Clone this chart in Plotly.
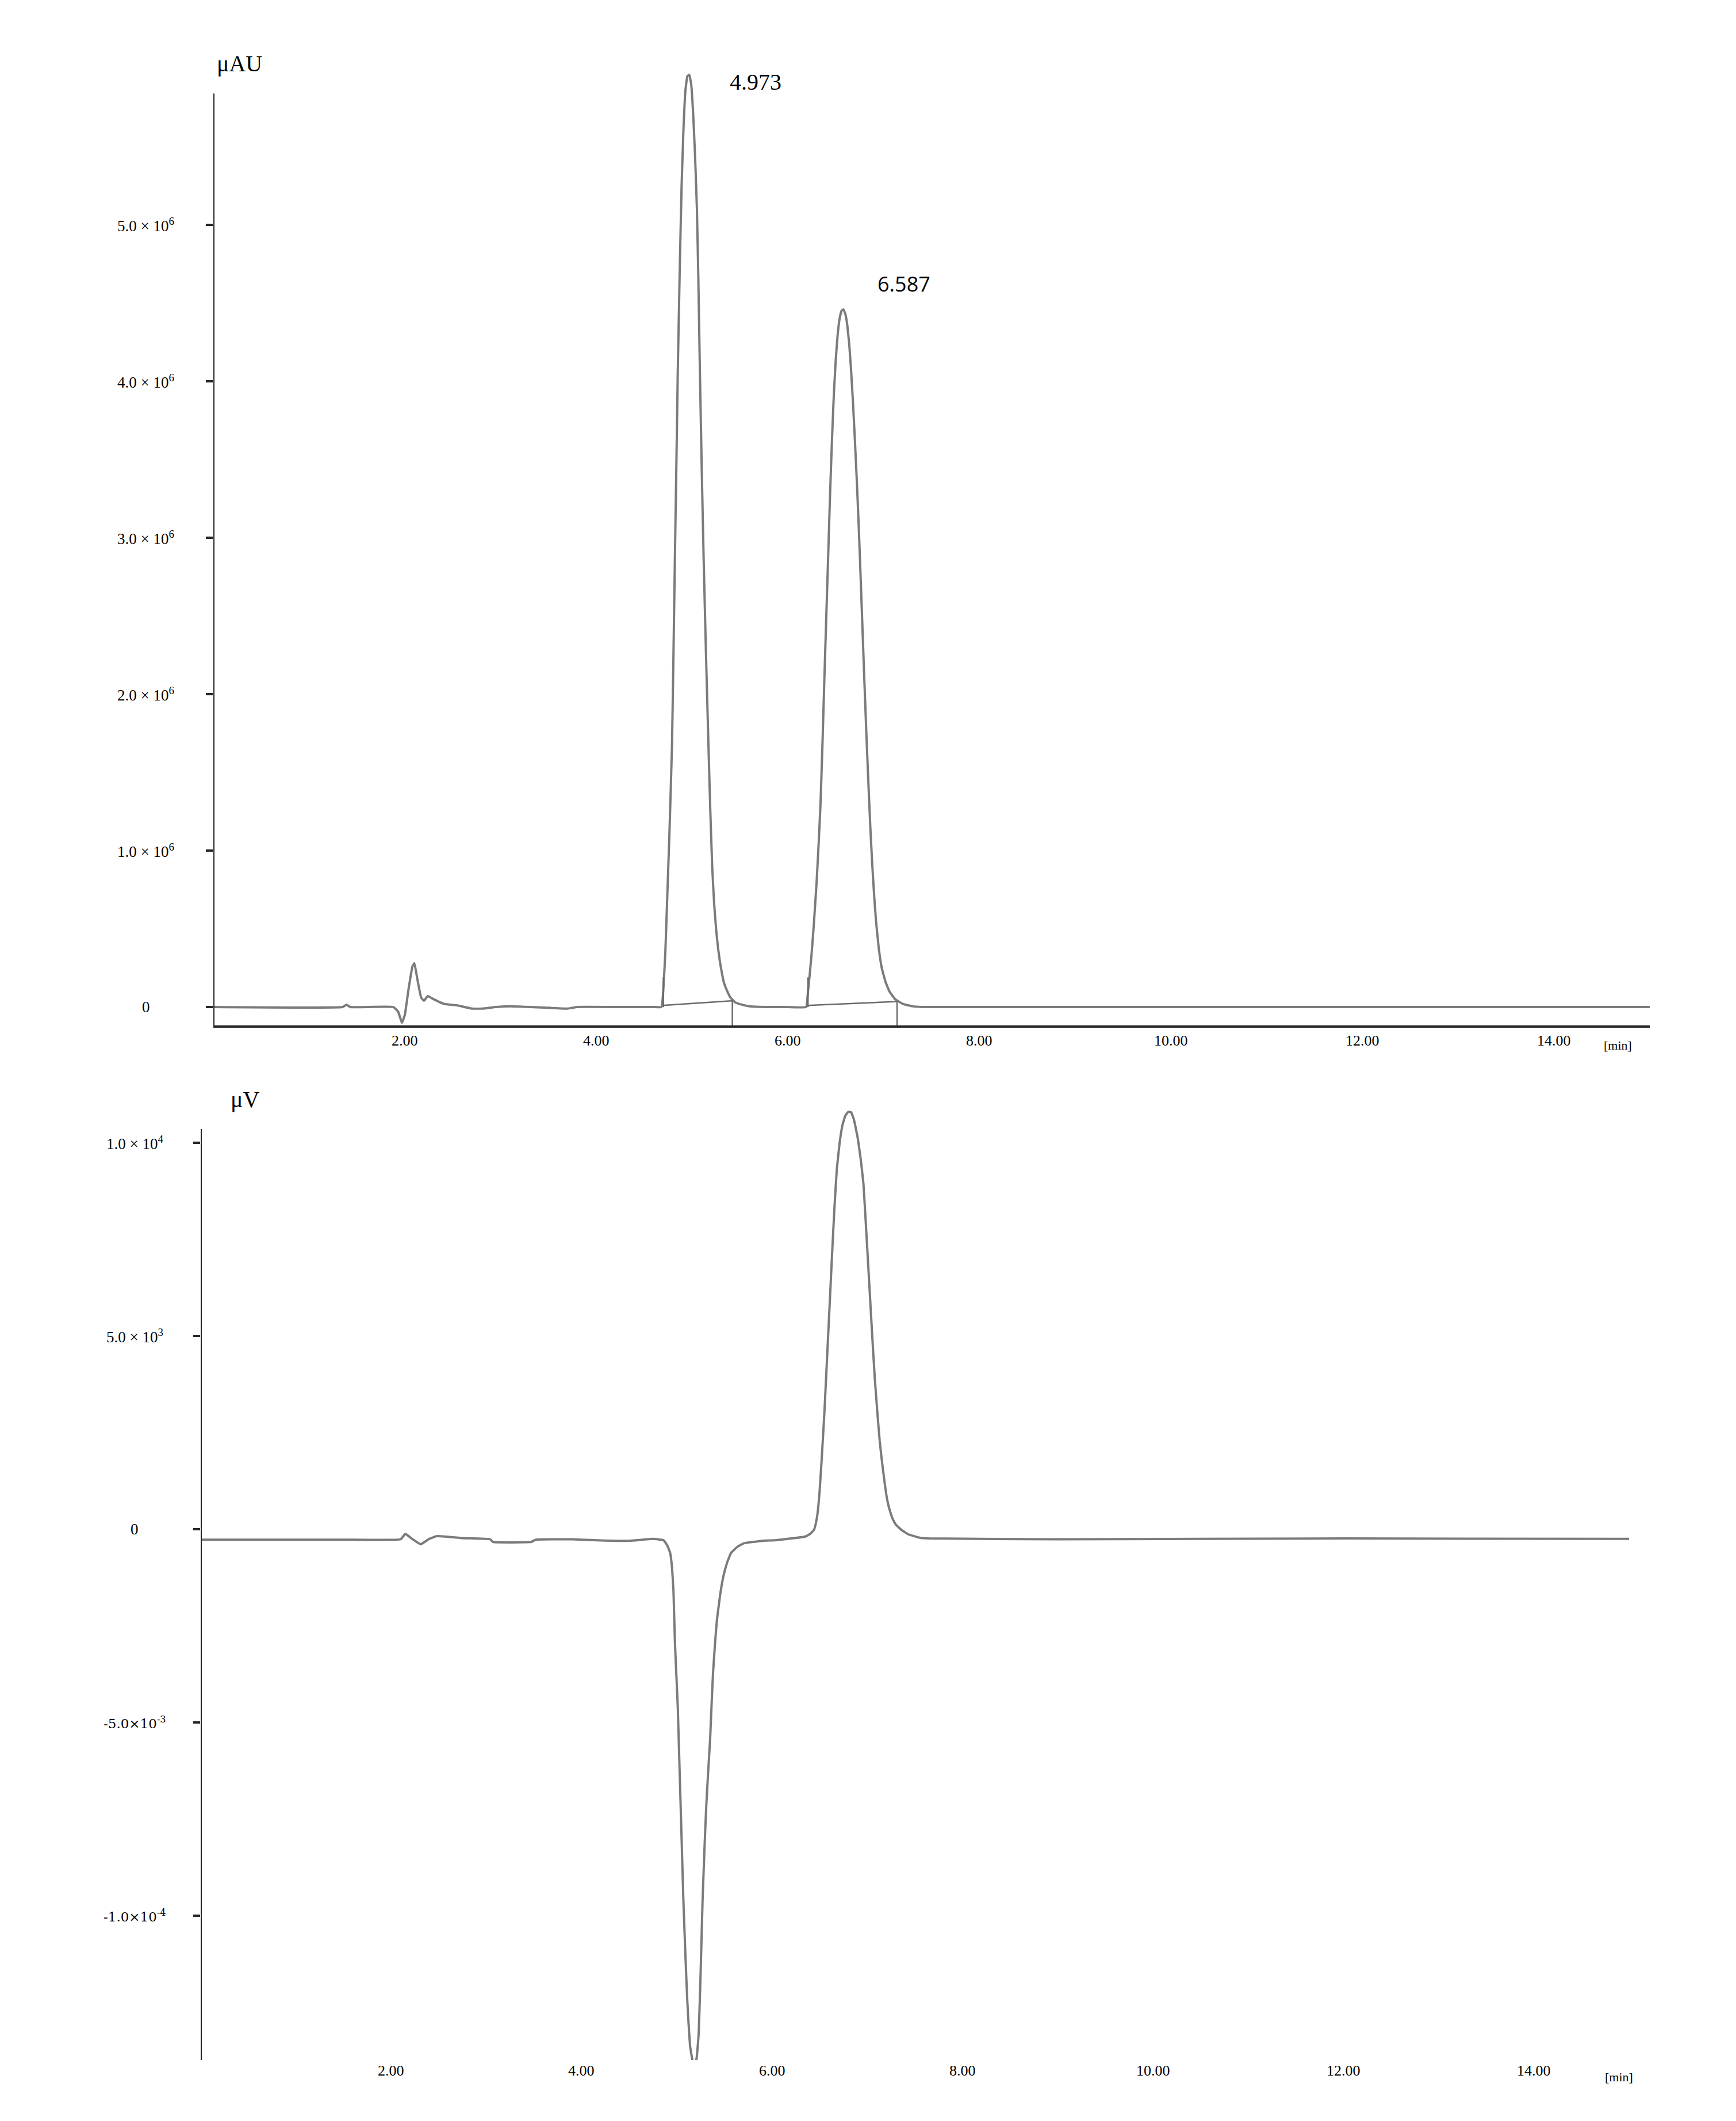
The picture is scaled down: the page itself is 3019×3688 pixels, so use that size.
import plotly.graph_objects as go

# ---------------- data ----------------
# Top chromatogram (UV, µAU); values in units of 1e6 µAU
uv_time = [0.00, 1.35, 1.39, 1.43, 1.88, 1.93, 1.97, 2.00, 2.04, 2.08, 2.10, 2.13,
           2.17, 2.20, 2.24, 2.30, 2.41, 2.55, 2.70, 2.81, 2.95, 3.10, 3.50, 3.70,
           3.80, 4.20, 4.60,
           4.68, 4.70, 4.72, 4.74, 4.765, 4.79, 4.805, 4.82, 4.835, 4.85, 4.87, 4.89,
           4.91, 4.93, 4.95, 4.97, 4.99, 5.01, 5.03, 5.05, 5.065, 5.08, 5.10, 5.12,
           5.145, 5.17, 5.19, 5.21, 5.23, 5.25, 5.27, 5.29, 5.31, 5.33, 5.36, 5.40,
           5.45, 5.52, 5.60, 5.80, 6.00,
           6.19, 6.21, 6.23, 6.25, 6.27, 6.30, 6.32, 6.34, 6.36, 6.38, 6.40, 6.42,
           6.44, 6.46, 6.48, 6.50, 6.52, 6.54, 6.56, 6.58, 6.60, 6.62, 6.64, 6.66,
           6.68, 6.70, 6.72, 6.74, 6.76, 6.78, 6.80, 6.82, 6.84, 6.86, 6.88, 6.90,
           6.92, 6.95, 6.98, 7.02, 7.06, 7.12, 7.20, 7.30,
           7.40, 8.00, 10.00, 12.00, 14.00, 15.00]
uv_signal = [0.00, 0.00, 0.015, 0.00, 0.00, -0.03, -0.10, -0.05, 0.12, 0.26, 0.28, 0.18,
             0.06, 0.04, 0.07, 0.05, 0.02, 0.01, -0.01, -0.01, 0.00, 0.005, -0.005, -0.01,
             0.00, 0.00, 0.00,
             0.00, 0.12, 0.35, 0.70, 1.15, 1.68, 2.25, 2.87, 3.45, 4.06, 4.70, 5.25,
             5.62, 5.86, 5.95, 5.96, 5.90, 5.72, 5.45, 5.10, 4.65, 4.10, 3.45, 2.87,
             2.25, 1.68, 1.25, 0.89, 0.66, 0.50, 0.38, 0.29, 0.22, 0.16, 0.11, 0.06,
             0.03, 0.015, 0.005, 0.00, 0.00,
             0.00, 0.10, 0.22, 0.36, 0.52, 0.80, 1.03, 1.29, 1.66, 2.08, 2.48, 2.87,
             3.27, 3.62, 3.92, 4.14, 4.30, 4.40, 4.45, 4.46, 4.43, 4.36, 4.24, 4.07,
             3.86, 3.62, 3.36, 3.07, 2.74, 2.40, 2.06, 1.74, 1.44, 1.16, 0.92, 0.72,
             0.55, 0.37, 0.25, 0.16, 0.10, 0.05, 0.02, 0.005,
             0.00, 0.00, 0.00, 0.00, 0.00, 0.00]

# integration marks of the top chromatogram (min, 1e6 µAU)
int_start = [4.69, 6.20]
int_end = [5.42, 7.14]
int_start_level = [0.01, 0.01]
int_end_level = [0.04, 0.035]
int_marker_height = [0.19, 0.19]

peak_rt_labels = ["4.973", "6.587"]

# Bottom chromatogram (RI, µV)
ri_time = [0.00, 1.50, 2.10, 2.15, 2.22, 2.31, 2.40, 2.48, 2.75, 3.04, 3.07, 3.47,
           3.52, 3.90, 4.20, 4.50, 4.75,
           4.86, 4.90, 4.93, 4.95, 4.965, 4.98, 4.995, 5.01, 5.025, 5.04, 5.055, 5.07,
           5.09, 5.11, 5.125, 5.14, 5.165, 5.19, 5.21, 5.23, 5.25, 5.27, 5.29, 5.31,
           5.33, 5.35, 5.365, 5.38, 5.40, 5.42, 5.455, 5.49, 5.53, 5.57, 5.64, 5.71,
           5.90, 6.05, 6.35, 6.40,
           6.44, 6.46, 6.48, 6.50, 6.52, 6.55, 6.57, 6.59, 6.61, 6.63, 6.655, 6.68, 6.71,
           6.74, 6.77, 6.80, 6.83, 6.86, 6.90, 6.93, 6.96, 6.99, 7.02, 7.05, 7.08,
           7.11, 7.13, 7.15, 7.18, 7.20, 7.22, 7.25, 7.27, 7.30, 7.36, 7.43, 7.55, 7.65,
           9.00, 12.00, 15.00]
ri_signal = [-270, -270, -260, -120, -250, -390, -250, -180, -230, -260, -330, -330,
             -270, -260, -290, -300, -250,
             -283, -420, -610, -1000, -1600, -2900, -3750, -4590, -5860, -7130, -8400, -9660,
             -11000, -12190, -12850, -13380, -13750, -13900, -13650, -13040, -11500, -9660, -8300, -7130,
             -6250, -5430, -4550, -3740, -3000, -2380, -1700, -1210, -850, -610, -450, -360,
             -300, -283, -190, -120,
             -20, 150, 450, 1000, 1750, 3020, 4030, 5040, 6060, 7080, 8300, 9300, 10000,
             10460, 10700, 10800, 10790, 10600, 10120, 9600, 8940, 7700, 6400, 5100, 3870,
             2900, 2300, 1850, 1250, 900, 640, 380, 250, 120, -20, -130, -220, -240,
             -260, -240, -250]

# axis ticks
x_tick_vals = [2, 4, 6, 8, 10, 12, 14]
x_tick_text = ["2.00", "4.00", "6.00", "8.00", "10.00", "12.00", "14.00"]
uv_tick_vals = [5.0e6, 4.0e6, 3.0e6, 2.0e6, 1.0e6, 0]
uv_tick_text = ["5.0 × 10<sup>6</sup>", "4.0 × 10<sup>6</sup>", "3.0 × 10<sup>6</sup>",
                "2.0 × 10<sup>6</sup>", "1.0 × 10<sup>6</sup>", "0"]
ri_tick_vals = [10000, 5000, 0, -5000, -10000]
ri_tick_text = ["1.0 × 10<sup>4</sup>", "5.0 × 10<sup>3</sup>", "0",
                "-5.0×10<sup>-3</sup>", "-1.0×10<sup>-4</sup>"]

# ---------------- layout geometry (pixels) ----------------
W, H = 3019, 3688
def px(x):
    return x / W
def py(y):
    return 1 - y / H

LINE = "#7b7b7b"
AXIS = "#262626"
SERIF = "Liberation Serif"

uv_vals = [v * 1e6 for v in uv_signal]

fig = go.Figure()
fig.add_trace(go.Scatter(x=uv_time, y=uv_vals, mode="lines",
                         line=dict(color=LINE, width=4, shape="spline", smoothing=0.3),
                         xaxis="x", yaxis="y", showlegend=False, hoverinfo="skip"))

# integration baseline segments and drop lines
AX1_BOTTOM = -0.1176e6
seg_x, seg_y = [], []
for s, e, sl, el, mh in zip(int_start, int_end, int_start_level, int_end_level, int_marker_height):
    seg_x += [s, e, None, e, e, None, s + 0.01, s + 0.01, None]
    seg_y += [sl * 1e6, el * 1e6, None, el * 1e6, AX1_BOTTOM, None, 0, mh * 1e6, None]
fig.add_trace(go.Scatter(x=seg_x, y=seg_y, mode="lines",
                         line=dict(color="#6a6a6a", width=2.5),
                         xaxis="x", yaxis="y", showlegend=False, hoverinfo="skip"))

fig.add_trace(go.Scatter(x=ri_time, y=ri_signal, mode="lines",
                         line=dict(color=LINE, width=4, shape="spline", smoothing=0.3),
                         xaxis="x2", yaxis="y2", showlegend=False, hoverinfo="skip"))

AX2_BOTTOM = -13735
AX2_TOP = 11101

fig.update_layout(
    width=W, height=H,
    margin=dict(l=0, r=0, t=0, b=0),
    paper_bgcolor="white", plot_bgcolor="white",
    showlegend=False,
    xaxis=dict(domain=[px(363), px(2861)], range=[0, 15], showgrid=False, zeroline=False,
               showline=True, linecolor=AXIS, linewidth=4, showticklabels=False, ticks="",
               anchor="y"),
    yaxis=dict(domain=[py(1775), py(111)], range=[AX1_BOTTOM, 6.0e6], showgrid=False,
               zeroline=False, showline=False, showticklabels=False, ticks="outside",
               tickvals=uv_tick_vals, ticklen=12, tickwidth=4, tickcolor=AXIS, anchor="x"),
    xaxis2=dict(domain=[px(341), px(2825)], range=[0, 15], showgrid=False, zeroline=False,
                showline=False, showticklabels=False, ticks="", anchor="y2"),
    yaxis2=dict(domain=[py(3574), py(1905)], range=[AX2_BOTTOM, AX2_TOP], showgrid=False,
                zeroline=False, showline=False, showticklabels=False, ticks="outside",
                tickvals=ri_tick_vals, ticklen=12, tickwidth=4, tickcolor=AXIS, anchor="x2"),
)

# y axis lines
fig.add_shape(type="line", xref="x", yref="y", x0=0, x1=0, y0=AX1_BOTTOM, y1=5.84e6,
              line=dict(color=AXIS, width=4))
fig.add_shape(type="line", xref="x2", yref="y2", x0=0, x1=0, y0=AX2_BOTTOM, y1=10357,
              line=dict(color=AXIS, width=4))

ann = []
# y tick labels (centred)
for v, t in zip(uv_tick_vals, uv_tick_text):
    ann.append(dict(xref="paper", yref="y", x=px(246), y=v, text=t, showarrow=False,
                    xanchor="center", yanchor="middle",
                    font=dict(family=SERIF, size=27, color="black")))
for v, t in zip(ri_tick_vals, ri_tick_text):
    fam = "DejaVu Serif" if v < 0 else SERIF
    size = 23 if v < 0 else 27
    ann.append(dict(xref="paper", yref="y2", x=px(226), y=v, text=t, showarrow=False,
                    xanchor="center", yanchor="middle",
                    font=dict(family=fam, size=size, color="black")))
# x tick labels
for v, t in zip(x_tick_vals, x_tick_text):
    ann.append(dict(xref="x", yref="paper", x=v, y=py(1801), text=t, showarrow=False,
                    xanchor="center", yanchor="middle",
                    font=dict(family=SERIF, size=26, color="black")))
    ann.append(dict(xref="x2", yref="paper", x=v, y=py(3592), text=t, showarrow=False,
                    xanchor="center", yanchor="middle",
                    font=dict(family=SERIF, size=26, color="black")))
# [min]
ann.append(dict(xref="paper", yref="paper", x=px(2805), y=py(1810), text="[min]",
                showarrow=False, xanchor="center", yanchor="middle",
                font=dict(family=SERIF, size=22, color="black")))
ann.append(dict(xref="paper", yref="paper", x=px(2807), y=py(3603), text="[min]",
                showarrow=False, xanchor="center", yanchor="middle",
                font=dict(family=SERIF, size=22, color="black")))
# units
ann.append(dict(xref="paper", yref="paper", x=px(408), y=py(103), text="μAU",
                showarrow=False, xanchor="center", yanchor="middle",
                font=dict(family=SERIF, size=40, color="black")))
ann.append(dict(xref="paper", yref="paper", x=px(418), y=py(1903), text="μV",
                showarrow=False, xanchor="center", yanchor="middle",
                font=dict(family=SERIF, size=40, color="black")))
# peak retention-time labels
ann.append(dict(xref="paper", yref="paper", x=px(1306), y=py(134), text=peak_rt_labels[0],
                showarrow=False, xanchor="center", yanchor="middle",
                font=dict(family=SERIF, size=40, color="black")))
ann.append(dict(xref="paper", yref="paper", x=px(1564), y=py(486), text=peak_rt_labels[1],
                showarrow=False, xanchor="center", yanchor="middle",
                font=dict(family="Open Sans", size=36, color="black")))

fig.update_layout(annotations=ann)
fig.write_html("out.html")
